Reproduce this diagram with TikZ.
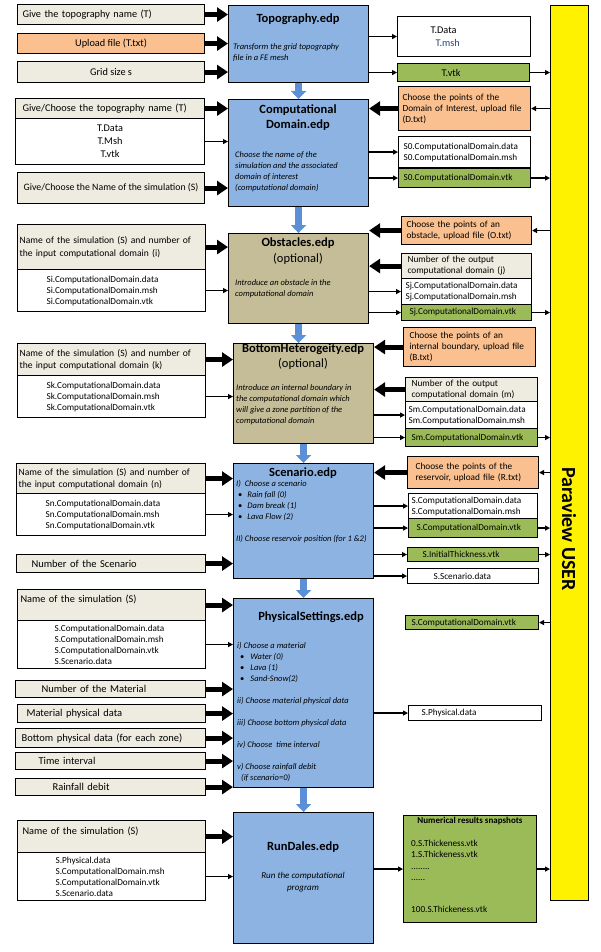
\documentclass[tikz,border=0pt]{standalone}
\usepackage{fontspec}
\setmainfont{Carlito}
\usetikzlibrary{arrows.meta}

\definecolor{askbeige}{HTML}{EEECE1}
\definecolor{uporange}{HTML}{FAC090}
\definecolor{vtkgreen}{HTML}{9BBB59}
\definecolor{edpblue}{HTML}{8DB3E2}
\definecolor{optkhaki}{HTML}{C4BD97}
\definecolor{flowblue}{HTML}{5B8FD6}
\definecolor{mshblue}{HTML}{1F497D}

\begin{document}
\begin{tikzpicture}[x=1pt, y=-1pt,
    every node/.style={inner sep=0pt},
    boxsize/.style 2 args={minimum width=#1pt, minimum height=#2pt, anchor=north west},
    boxline/.style={draw, line width=1.1pt},
    inbox/.style={boxline, fill=askbeige, font=\fontsize{10.3}{13}\selectfont},
    filebox/.style={boxline, fill=white, font=\fontsize{9.2}{11}\selectfont},
    uploadbox/.style={boxline, fill=uporange, font=\fontsize{9.3}{11}\selectfont},
    vtkbox/.style={boxline, fill=vtkgreen, font=\fontsize{9.2}{11}\selectfont},
    edpbox/.style={boxline, fill=edpblue},
    optbox/.style={boxline, fill=optkhaki},
    lefttext/.style={align=left, text width=#1pt},
    twolines/.style={font=\fontsize{9.6}{12.5}\selectfont},
    edptitle/.style={font=\fontsize{12.5}{15.5}\selectfont\bfseries, align=center},
    edpnote/.style={font=\fontsize{8.5}{11}\selectfont\itshape, align=left},
    feed/.style={line width=5pt, -{Triangle[width=14pt, length=11pt]}},
    result/.style={line width=1.3pt, -{Triangle[width=5pt, length=5pt]}},
    flow/.style={line width=7pt, flowblue, -{Triangle[width=15pt, length=8pt]}}
  ]
\useasboundingbox (0,0) rectangle (600,952);

\node[boxline, fill=yellow, boxsize={38}{895}] (paraview) at (550,5) {};
\node[rotate=-90, font=\fontsize{20}{24}\selectfont\bfseries] (paraviewname) at (569,529) {Paraview USER};

% Topography
\node[inbox, boxsize={187}{20}, lefttext=177] (toponame) at (17,4) {Give the  topography name (T)};
\node[uploadbox, boxsize={187}{20}, font=\fontsize{10.3}{13}\selectfont] (topoupload) at (17,33) {Upload file (T.txt)};
\node[inbox, boxsize={187}{21}] (topogrid) at (17,61) {Grid size s};
\node[edpbox, boxsize={140}{77}] (topo) at (228,5) {};
\node[edptitle] (topotitle) at (298,19) {Topography.edp};
\node[edpnote, anchor=west] (toponote) at (233,53) {Transform the grid topography\\file in a FE mesh};
\node[filebox, boxsize={133}{40}, lefttext=67, font=\fontsize{10.3}{13}\selectfont] (topomesh) at (397,16) {T.Data\\\hspace*{5pt}\textcolor{mshblue}{T.msh}};
\node[vtkbox, boxsize={132}{18}, lefttext=44, font=\fontsize{10.3}{13}\selectfont] (topovtk) at (397,63) {T.vtk};

\draw[feed] (toponame.east) -- (topo.west |- toponame.east);
\draw[feed] (topoupload.east) -- (topo.west |- topoupload.east);
\draw[feed] (topogrid.east) -- (topo.west |- topogrid.east);
\draw[result] (topo.east |- topomesh.west) -- (topomesh.west);
\draw[result] (topo.east |- topovtk.west) -- (topovtk.west);
\draw[result] (topovtk.east) -- (paraview.west |- topovtk.east);

% Computational domain
\node[inbox, boxsize={189}{20}, lefttext=175] (compname) at (15,98) {Give/Choose the  topography name (T)};
\node[filebox, boxsize={189}{46}, align=center, font=\fontsize{10.3}{13}\selectfont] (compfiles) at (15,118) {T.Data\\T.Msh\\T.vtk};
\node[inbox, boxsize={187}{31}, font=\fontsize{9.8}{12}\selectfont] (compsim) at (17,172) {Give/Choose  the Name of the simulation  (S)};
\node[edpbox, boxsize={140}{107}] (comp) at (228,99) {};
\node[edptitle] (comptitle) at (298,117.5) {Computational\\Domain.edp};
\node[edpnote, anchor=west] (compnote) at (235,172) {Choose the name of the\\simulation and the associated\\domain of interest\\(computational domain)};
\node[uploadbox, boxsize={132}{44}, lefttext=124] (compupload) at (398,86) {Choose the points of the\\Domain of Interest, upload file\\(D.txt)};
\node[filebox, boxsize={132}{31}, lefttext=122] (compmesh) at (398,136) {S0.ComputationalDomain.data\\S0.ComputationalDomain.msh};
\node[vtkbox, boxsize={132}{19}, lefttext=122] (compvtk) at (398,168) {S0.ComputationalDomain.vtk};

\draw[feed] (compname.east) -- (comp.west |- compname.east);
\draw[result] (compfiles.east) -- (comp.west |- compfiles.east);
\draw[feed] (compsim.east) -- (comp.west |- compsim.east);
\draw[feed] (compupload.west) -- (comp.east |- compupload.west);
\draw[result] (paraview.west |- compupload.east) -- (compupload.east);
\draw[result] (comp.east |- compmesh.west) -- (compmesh.west);
\draw[result] (comp.east |- compvtk.west) -- (compvtk.west);
\draw[result] (compvtk.east) -- (paraview.west |- compvtk.east);

% Obstacles
\node[inbox, twolines, boxsize={188}{45}, lefttext=184] (obstname) at (17,224) {Name of the simulation (S) and number of\\the input computational domain (i)};
\node[filebox, boxsize={188}{42}, lefttext=130] (obstfiles) at (17,269) {Si.ComputationalDomain.data\\Si.ComputationalDomain.msh\\Si.ComputationalDomain.vtk};
\node[optbox, boxsize={140}{90}] (obst) at (228,233) {};
\node[edptitle] (obsttitle) at (298,251) {Obstacles.edp\\\mdseries(optional)};
\node[edpnote, anchor=west] (obstnote) at (235,288.5) {Introduce an obstacle in the\\computational domain};
\node[uploadbox, boxsize={130}{28}, lefttext=120] (obstupload) at (401,216) {Choose the points of  an\\obstacle, upload file (O.txt)};
\node[inbox, boxsize={130}{25}, lefttext=118, font=\fontsize{9.3}{11}\selectfont] (obstnumber) at (401,253) {Number of the output\\computational domain (j)};
\node[filebox, boxsize={130}{26}, lefttext=122] (obstmesh) at (401,278) {Sj.ComputationalDomain.data\\Sj.ComputationalDomain.msh};
\node[vtkbox, boxsize={130}{16}, lefttext=114] (obstvtk) at (401,304) {Sj.ComputationalDomain.vtk};

\draw[feed] (obstname.east) -- (obst.west |- obstname.east);
\draw[result] (obstfiles.east) -- (obst.west |- obstfiles.east);
\draw[feed] (obstupload.west) -- (obst.east |- obstupload.west);
\draw[result] (paraview.west |- obstupload.east) -- (obstupload.east);
\draw[feed] (obstnumber.west) -- (obst.east |- obstnumber.west);
\draw[result] (obst.east |- obstmesh.west) -- (obstmesh.west);
\draw[result] (obst.east |- obstvtk.west) -- (obstvtk.west);
\draw[result] (obstvtk.east) -- (paraview.west |- obstvtk.east);

% Bottom heterogeneity
\node[inbox, twolines, boxsize={188}{32}, lefttext=184] (bottomname) at (17,343) {Name of the simulation (S)  and number of\\the input computational domain (k)};
\node[filebox, boxsize={188}{42}, lefttext=130] (bottomfiles) at (17,375) {Sk.ComputationalDomain.data\\Sk.ComputationalDomain.msh\\Sk.ComputationalDomain.vtk};
\node[optbox, boxsize={140}{100}] (bottom) at (233,343) {};
\node[edptitle] (bottomtitle) at (303,356.5) {BottomHeterogeity.edp\\\mdseries(optional)};
\node[edpnote, anchor=west] (bottomnote) at (236,404.5) {Introduce an  internal boundary  in\\the computational domain which\\will give a zone partition of the\\computational domain};
\node[uploadbox, boxsize={132}{39}, lefttext=120] (bottomupload) at (403,327) {Choose the points of  an\\internal boundary, upload file\\(B.txt)};
\node[inbox, boxsize={132}{24}, lefttext=120, font=\fontsize{9.3}{11}\selectfont] (bottomnumber) at (405,377) {Number of the output\\computational domain (m)};
\node[filebox, boxsize={132}{27}, lefttext=126] (bottommesh) at (405,401) {Sm.ComputationalDomain.data\\Sm.ComputationalDomain.msh};
\node[vtkbox, boxsize={132}{18}, lefttext=120] (bottomvtk) at (405,428) {Sm.ComputationalDomain.vtk};

\draw[feed] (bottomname.east) -- (bottom.west |- bottomname.east);
\draw[result] (bottomfiles.east) -- (bottom.west |- bottomfiles.east);
\draw[feed] (bottomupload.west) -- (bottom.east |- bottomupload.west);
\draw[feed] (bottomnumber.west) -- (bottom.east |- bottomnumber.west);
\draw[result] (bottom.east |- bottommesh.west) -- (bottommesh.west);
\draw[result] (bottom.east |- bottomvtk.west) -- (bottomvtk.west);
\draw[result] (bottomvtk.east) -- (paraview.west |- bottomvtk.east);

% Scenario
\node[inbox, twolines, boxsize={189}{30}, lefttext=185] (scenname) at (16,463) {Name of the simulation (S)  and number of\\the input computational domain (n)};
\node[filebox, boxsize={189}{42}, lefttext=131] (scenfiles) at (16,493) {Sn.ComputationalDomain.data\\Sn.ComputationalDomain.msh\\Sn.ComputationalDomain.vtk};
\node[inbox, boxsize={189}{18}, lefttext=159, font=\fontsize{10.5}{13}\selectfont] (scennumber) at (16,554) {Number  of the  Scenario};
\node[edpbox, boxsize={140}{115}] (scen) at (233,463) {};
\node[edptitle] (scentitle) at (303,473) {Scenario.edp};
\node[edpnote, anchor=west] (scennote) at (236,512) {I)~ Choose a scenario\\
  \hspace*{2pt}{\upshape\textbullet}\hspace{5pt}Rain fall (0)\\
  \hspace*{2pt}{\upshape\textbullet}\hspace{5pt}Dam break (1)\\
  \hspace*{2pt}{\upshape\textbullet}\hspace{5pt}Lava Flow (2)\\[11pt]
  II) Choose reservoir position (for 1 \&2)};
\node[uploadbox, boxsize={131}{32}, lefttext=115] (scenupload) at (407,456) {Choose the points of  the\\reservoir, upload file (R.txt)};
\node[filebox, boxsize={129}{25}, lefttext=123] (scenmesh) at (408,493) {S.ComputationalDomain.data\\S.ComputationalDomain.msh};
\node[vtkbox, boxsize={129}{19}, lefttext=113] (scenvtk) at (408,518) {S.ComputationalDomain.vtk};
\node[vtkbox, boxsize={131}{14}, lefttext=101] (scenthick) at (407,547) {S.InitialThickness.vtk};
\node[filebox, boxsize={131}{15}, lefttext=79] (scendata) at (407,568) {S.Scenario.data};

\draw[feed] (scenname.east) -- (scen.west |- scenname.east);
\draw[result] (scenfiles.east) -- (scen.west |- scenfiles.east);
\draw[feed] (scennumber.east) -- (scen.west |- scennumber.east);
\draw[feed] (scenupload.west) -- (scen.east |- scenupload.west);
\draw[result] (paraview.west |- scenupload.east) -- (scenupload.east);
\draw[result] (scen.east |- scenmesh.west) -- (scenmesh.west);
\draw[result] (scen.east |- scenvtk.west) -- (scenvtk.west);
\draw[result] (scen.east |- scenthick.west) -- (scenthick.west);
\draw[result] (scen.east |- scendata.west) -- (scendata.west);
\draw[result] (scenvtk.east) -- (paraview.west |- scenvtk.east);
\draw[result] (scenthick.east) -- (paraview.west |- scenthick.east);

% Physical settings
\node[inbox, boxsize={188}{31}, lefttext=182, text height=8pt, text depth=13pt] (physname) at (17,589) {Name of the simulation (S)};
\node[filebox, boxsize={188}{48}, lefttext=114] (physfiles) at (17,620) {S.ComputationalDomain.data\\S.ComputationalDomain.msh\\S.ComputationalDomain.vtk\\S.Scenario.data};
\node[inbox, boxsize={190}{17}, lefttext=138, font=\fontsize{10.5}{13}\selectfont] (physmaterial) at (15,680) {Number  of the Material};
\node[inbox, boxsize={188}{18}, lefttext=170, font=\fontsize{10.5}{13}\selectfont] (physdata) at (17,704) {Material physical data};
\node[inbox, boxsize={190}{19}, lefttext=178, font=\fontsize{10.5}{13}\selectfont] (physbottom) at (15,728) {Bottom physical  data (for each zone)};
\node[inbox, boxsize={190}{17}, lefttext=144, font=\fontsize{10.5}{13}\selectfont] (phystime) at (15,752) {Time interval};
\node[inbox, boxsize={190}{17}, lefttext=116, font=\fontsize{10.5}{13}\selectfont] (physrain) at (15,778) {Rainfall debit};
\node[edpbox, boxsize={140}{189}] (phys) at (233,598) {};
\node[edptitle] (phystitle) at (311,617) {PhysicalSettings.edp};
\node[edpnote, anchor=west] (physnote) at (237,712) {i) Choose a material\\
  \hspace*{3pt}{\upshape\textbullet}\hspace{6pt}Water (0)\\
  \hspace*{3pt}{\upshape\textbullet}\hspace{6pt}Lava (1)\\
  \hspace*{3pt}{\upshape\textbullet}\hspace{6pt}Sand-Snow(2)\\[11pt]
  ii) Choose material physical data\\[11pt]
  iii) Choose bottom physical data\\[11pt]
  iv) Choose~ time interval\\[11pt]
  v) Choose rainfall debit\\
  \hspace*{4pt}(if scenario=0)};
\node[vtkbox, boxsize={133}{14}, lefttext=121] (physvtk) at (405,615) {S.ComputationalDomain.vtk};
\node[filebox, boxsize={133}{15}, lefttext=107] (physout) at (408,705) {S.Physical.data};

\draw[feed] (physname.east) -- (phys.west |- physname.east);
\draw[result] (physfiles.east) -- (phys.west |- physfiles.east);
\draw[feed] (physmaterial.east) -- (phys.west |- physmaterial.east);
\draw[feed] (physdata.east) -- (phys.west |- physdata.east);
\draw[feed] (physbottom.east) -- (phys.west |- physbottom.east);
\draw[feed] (phystime.east) -- (phys.west |- phystime.east);
\draw[feed] (physrain.east) -- (phys.west |- physrain.east);
\draw[result] (paraview.west |- physvtk.east) -- (physvtk.east);
\draw[result] (phys.east |- physout.west) -- (physout.west);

% Run
\node[inbox, boxsize={188}{32}, lefttext=178, text height=8pt, text depth=13pt] (runname) at (17,820) {Name of the simulation (S)};
\node[filebox, boxsize={188}{48}, lefttext=112] (runfiles) at (17,852) {S.Physical.data\\S.ComputationalDomain.msh\\S.ComputationalDomain.vtk\\S.Scenario.data};
\node[edpbox, boxsize={140}{131}] (run) at (233,812) {};
\node[edptitle] (runtitle) at (303,847) {RunDales.edp};
\node[edpnote, align=center, font=\fontsize{9}{12}\selectfont\itshape] (runnote) at (303,882) {Run the computational\\program};
\node[vtkbox, boxsize={133}{107}] (snap) at (403,815) {};
\node[font=\fontsize{9}{11}\selectfont\bfseries] (snaptitle) at (470,821) {Numerical results snapshots};
\node[align=left, anchor=west, font=\fontsize{9.2}{11.5}\selectfont] (snaplist) at (411,876) {0.S.Thickeness.vtk\\1.S.Thickeness.vtk\\........\\......\\[20pt]100.S.Thickeness.vtk};

\draw[feed] (runname.east) -- (run.west |- runname.east);
\draw[result] (runfiles.east) -- (run.west |- runfiles.east);
\draw[result] (run.east |- snap.west) -- (snap.west);
\draw[result] (snap.east) -- (paraview.west |- snap.east);

\draw[flow] (topo.south) -- (comp.north);
\draw[flow] (comp.south) -- (obst.north);
\draw[flow] (obst.south) -- (obst.south |- bottom.north);
\draw[flow] (bottom.south) -- (scen.north);
\draw[flow] (scen.south) -- (phys.north);
\draw[flow] (phys.south) -- (run.north);
\end{tikzpicture}
\end{document}
